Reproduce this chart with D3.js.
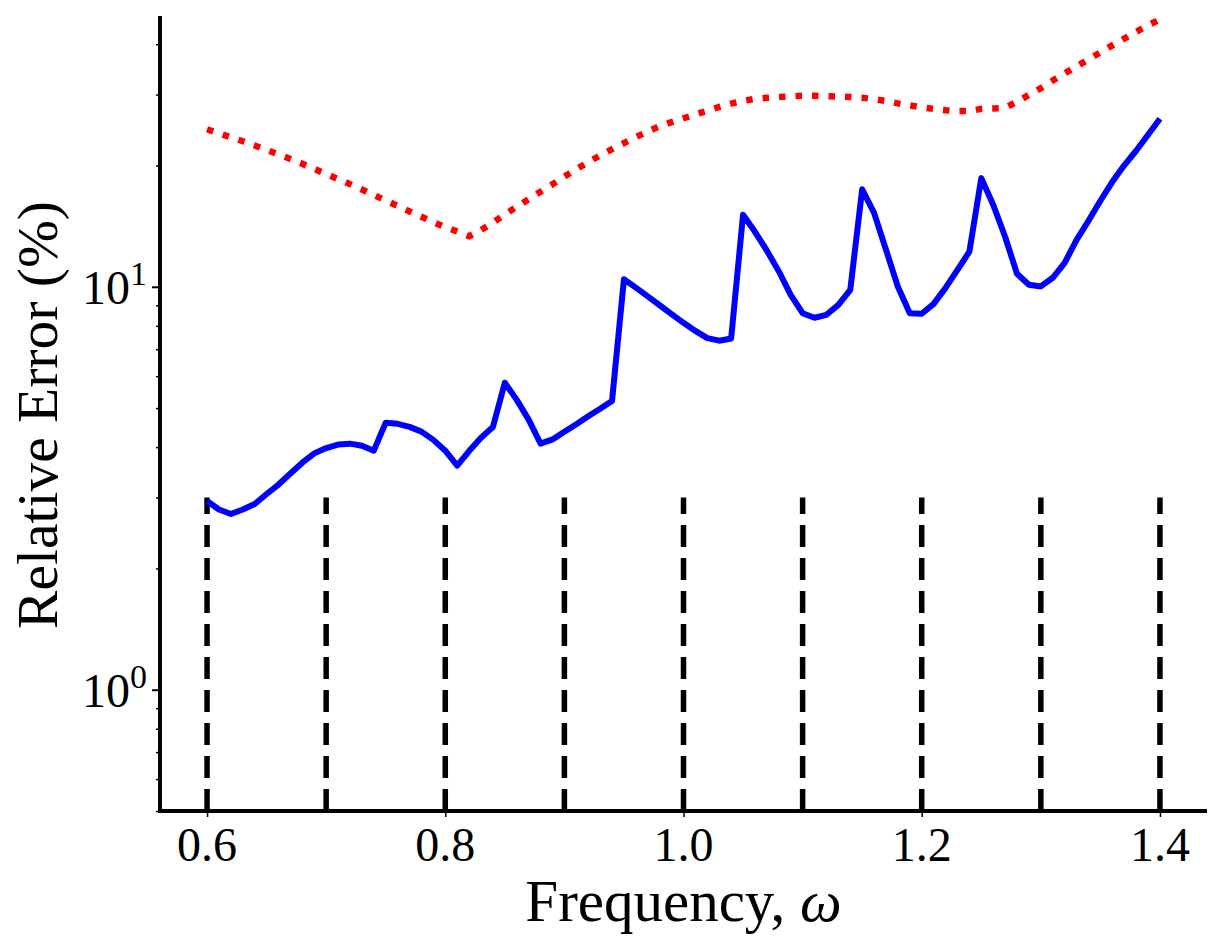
<!DOCTYPE html>
<html>
<head>
<meta charset="utf-8">
<script src="https://cdn.jsdelivr.net/npm/d3@7"></script>
<style>
  html, body { margin: 0; padding: 0; background: #fff; }
  text { font-family: 'Liberation Serif', 'Times New Roman', Times, 'DejaVu Serif', serif; }
</style>
</head>
<body>
<svg id="chart" width="1225" height="950"></svg>
<script>
// ---------- data ----------
const frequency = d3.range(0, 81).map(k => +(0.6 + k * 0.01).toFixed(2));

const errorSolid = [
  2.94, 2.80, 2.73, 2.80, 2.89, 3.06, 3.23, 3.44, 3.66, 3.86,
  3.98, 4.06, 4.08, 4.03, 3.92, 4.60, 4.57, 4.49, 4.37, 4.17,
  3.92, 3.60, 3.91, 4.22, 4.49, 5.78, 5.24, 4.68, 4.08, 4.18,
  4.37, 4.56, 4.77, 4.98, 5.21, 10.44, 9.95, 9.47, 9.00, 8.55,
  8.14, 7.77, 7.46, 7.35, 7.44, 15.09, 13.69, 12.29, 10.93, 9.55,
  8.60, 8.38, 8.52, 9.02, 9.83, 17.46, 15.26, 12.36, 10.00, 8.60,
  8.57, 9.07, 9.94, 11.02, 12.22, 18.61, 15.98, 13.31, 10.77, 10.12,
  10.02, 10.53, 11.47, 13.08, 14.58, 16.35, 18.22, 20.02, 21.76, 23.84,
  26.12
];

const errorDotted = [
  24.60, 24.04, 23.50, 22.98, 22.43, 21.86, 21.31, 20.76, 20.20, 19.62,
  19.05, 18.51, 17.98, 17.43, 16.90, 16.38, 15.88, 15.38, 14.92, 14.47,
  14.07, 13.72, 13.35, 13.83, 14.44, 15.11, 15.80, 16.50, 17.22, 17.96,
  18.77, 19.58, 20.38, 21.19, 21.96, 22.74, 23.52, 24.29, 25.03, 25.63,
  26.20, 26.78, 27.35, 27.95, 28.49, 28.93, 29.27, 29.44, 29.58, 29.70,
  29.78, 29.78, 29.73, 29.65, 29.58, 29.46, 29.24, 28.91, 28.52, 28.18,
  27.89, 27.63, 27.42, 27.29, 27.30, 27.65, 27.71, 27.81, 28.78, 29.94,
  31.12, 32.49, 33.87, 35.25, 36.67, 38.16, 39.74, 41.29, 42.94, 44.56,
  46.12
];

const markerFreqs = [0.6, 0.7, 0.8, 0.9, 1.0, 1.1, 1.2, 1.3, 1.4];
const markerRange = [0.5, 3];

const xTicks = [0.6, 0.8, 1.0, 1.2, 1.4];
const xTickLabels = ["0.6", "0.8", "1.0", "1.2", "1.4"];
const yMajorTicks = [1, 10];
const yMajorExponents = ["0", "1"];
const yMinorTicks = [0.5, 0.6, 0.7, 0.8, 0.9, 2, 3, 4, 5, 6, 7, 8, 9, 20, 30, 40];

const xDomain = [0.5605, 1.4395];
const yDomain = [0.5, 47];

// ---------- layout ----------
const FONT = "'Liberation Serif', 'Times New Roman', Times, 'DejaVu Serif', serif";
const svg = d3.select("#chart");
const L = 160, R = 1207, T = 16, B = 811;

const x = d3.scaleLinear().domain(xDomain).range([L, R]);
const y = d3.scaleLog().domain(yDomain).range([B, T]);

// dashed vertical markers (drawn from bottom upward)
svg.append("g").selectAll("path")
  .data(markerFreqs)
  .join("path")
  .attr("d", f => `M${x(f)},${y(markerRange[0])}L${x(f)},${y(markerRange[1])}`)
  .attr("fill", "none")
  .attr("stroke", "#000")
  .attr("stroke-width", 5.5)
  .attr("stroke-dasharray", "22,11");

// curves
const line = d3.line()
  .x((d, i) => x(frequency[i]))
  .y(d => y(d));

svg.append("path")
  .datum(errorDotted)
  .attr("d", line)
  .attr("fill", "none")
  .attr("stroke", "#ff0000")
  .attr("stroke-width", 6.5)
  .attr("stroke-dasharray", "6.5,10");

svg.append("path")
  .datum(errorSolid)
  .attr("d", line)
  .attr("fill", "none")
  .attr("stroke", "#0000ff")
  .attr("stroke-width", 6)
  .attr("stroke-linejoin", "round");

// x axis ticks
const xAxis = svg.append("g").attr("transform", `translate(0,${B})`)
  .call(d3.axisBottom(x).tickValues(xTicks).tickSize(6).tickFormat(""));
xAxis.select(".domain").remove();
xAxis.selectAll("line").attr("stroke", "#000").attr("stroke-width", 1.5);

svg.append("g").selectAll("text")
  .data(xTicks)
  .join("text")
  .attr("x", d => x(d))
  .attr("y", 861)
  .attr("text-anchor", "middle")
  .attr("font-family", FONT)
  .attr("font-size", 48)
  .attr("fill", "#000")
  .text((d, i) => xTickLabels[i]);

// y axis ticks
const yMaj = svg.append("g").attr("transform", `translate(${L},0)`)
  .call(d3.axisLeft(y).tickValues(yMajorTicks).tickSize(8).tickFormat(""));
yMaj.select(".domain").remove();
yMaj.selectAll("line").attr("stroke", "#000").attr("stroke-width", 2);

const yMin = svg.append("g").attr("transform", `translate(${L},0)`)
  .call(d3.axisLeft(y).tickValues(yMinorTicks).tickSize(4).tickFormat(""));
yMin.select(".domain").remove();
yMin.selectAll("line").attr("stroke", "#000").attr("stroke-width", 1.5);

const yLab = svg.append("g").selectAll("text")
  .data(yMajorTicks)
  .join("text")
  .attr("x", 147)
  .attr("y", d => y(d) + 17)
  .attr("text-anchor", "end")
  .attr("font-family", FONT)
  .attr("font-size", 48)
  .attr("fill", "#000");
yLab.append("tspan").text("10");
yLab.append("tspan").attr("font-size", 34).attr("dy", -19).text((d, i) => yMajorExponents[i]);

// spines
svg.append("line").attr("x1", L).attr("x2", L).attr("y1", T).attr("y2", B + 2)
  .attr("stroke", "#000").attr("stroke-width", 4);
svg.append("line").attr("x1", L - 2).attr("x2", R).attr("y1", B).attr("y2", B)
  .attr("stroke", "#000").attr("stroke-width", 4);

// axis titles
svg.append("text")
  .attr("x", (L + R) / 2)
  .attr("y", 921)
  .attr("text-anchor", "middle")
  .attr("font-family", FONT)
  .attr("font-size", 59)
  .attr("fill", "#000")
  .call(t => {
    t.append("tspan").text("Frequency, ");
    t.append("tspan").attr("font-style", "italic").text("ω");
  });

svg.append("text")
  .attr("transform", `translate(57,${415}) rotate(-90)`)
  .attr("text-anchor", "middle")
  .attr("font-family", FONT)
  .attr("font-size", 57.5)
  .attr("fill", "#000")
  .text("Relative Error (%)");
</script>
</body>
</html>
